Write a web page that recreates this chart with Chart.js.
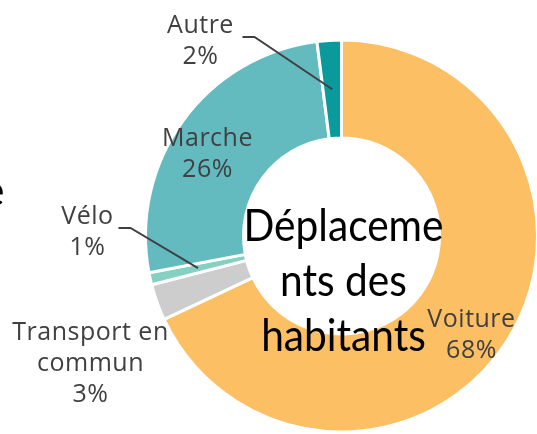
<!DOCTYPE html>
<html>
<head>
<meta charset="utf-8">
<script src="https://cdn.jsdelivr.net/npm/chart.js@4.4.1/dist/chart.umd.min.js"></script>
<style>
  html, body { margin: 0; padding: 0; background: #fff; overflow: hidden; }
</style>
</head>
<body>
<canvas id="donut" width="537" height="434"></canvas>
<script>
// modes de déplacement, parts en %
const modes = ['Voiture', 'Transport en commun', 'Vélo', 'Marche', 'Autre'];
const parts = [68, 3, 1, 26, 2];
const labelText = [['Voiture', '68%'], ['Transport en', 'commun', '3%'], ['Vélo', '1%'], ['Marche', '26%'], ['Autre', '2%']];
const centerTitle = ['Déplaceme', 'nts des', 'habitants'];
const colours = ['#FDBF63', '#CDCDCD', '#86CFC3', '#63BBC0', '#0A9A9C'];

// where the labels sit, relative to the ring centre (first baseline)
const labelAnchor = [[130, 91], [-251, 104], [-254, -12], [-134, -90], [-141, -203]];
const leaderStart = [null, null, [-223, -8], null, [-99, -199]];

const ringLabels = {
  id: 'ringLabels',
  afterDatasetsDraw(chart) {
    const ctx = chart.ctx;
    const arcs = chart.getDatasetMeta(0).data;
    const cx = arcs[0].x, cy = arcs[0].y;
    ctx.save();

    // traits de rappel
    ctx.strokeStyle = '#404040';
    ctx.lineWidth = 2;
    leaderStart.forEach((s, i) => {
      if (!s) return;
      const p = arcs[i].getProps(['startAngle', 'endAngle', 'innerRadius', 'outerRadius']);
      const mid = (p.startAngle + p.endAngle) / 2;
      const r = (p.innerRadius + p.outerRadius) / 2;
      ctx.beginPath();
      ctx.moveTo(cx + s[0], cy + s[1]);
      ctx.lineTo(cx + s[0] + 12, cy + s[1]);
      ctx.lineTo(cx + Math.cos(mid) * r, cy + Math.sin(mid) * r);
      ctx.stroke();
    });

    // étiquettes
    ctx.fillStyle = '#404040';
    ctx.font = '25px "Open Sans"';
    ctx.letterSpacing = '0.5px';
    ctx.textAlign = 'center';
    ctx.textBaseline = 'alphabetic';
    labelText.forEach((lines, i) => {
      const a = labelAnchor[i];
      lines.forEach((t, k) => ctx.fillText(t, cx + a[0], cy + a[1] + k * 31));
    });

    // titre au centre
    ctx.letterSpacing = '0px';
    ctx.fillStyle = '#000';
    ctx.font = '45px Lato';
    const sx = 200 / ctx.measureText(centerTitle[0]).width;
    centerTitle.forEach((t, k) => {
      ctx.save();
      ctx.translate(cx + 2, cy + 5 + k * 55);
      ctx.scale(sx, 1);
      ctx.fillText(t, 0, 0);
      ctx.restore();
    });
    // bout de texte coupé à gauche
    ctx.textAlign = 'right';
    ctx.fillText('e', cx - 337, cy - 30);
    ctx.restore();
  }
};

new Chart(document.getElementById('donut'), {
  type: 'doughnut',
  data: {
    labels: modes,
    datasets: [{
      data: parts,
      backgroundColor: colours,
      borderColor: '#fff',
      borderWidth: 3,
      hoverOffset: 0
    }]
  },
  options: {
    responsive: false,
    animation: false,
    cutout: '50%',
    radius: 196,
    layout: { padding: { left: 146, right: 0, top: 40, bottom: 2 } },
    plugins: {
      legend: { display: false },
      tooltip: { enabled: false }
    }
  },
  plugins: [ringLabels]
});
</script>
</body>
</html>
